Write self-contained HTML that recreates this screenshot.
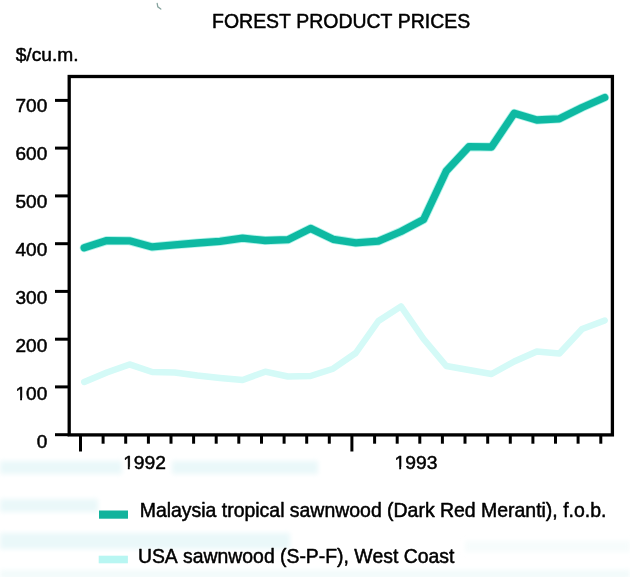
<!DOCTYPE html>
<html><head><meta charset="utf-8"><title>Forest Product Prices</title><style>
html,body{margin:0;padding:0;background:#fff;}
body{width:630px;height:577px;overflow:hidden;font-family:"Liberation Sans",sans-serif;}
svg{display:block;}
.t text{font-family:"Liberation Sans",sans-serif;font-kerning:none;font-variant-ligatures:none;}
</style></head><body>
<svg width="630" height="577" viewBox="0 0 630 577">
<defs><filter id="b1" x="-5%" y="-20%" width="110%" height="140%"><feGaussianBlur stdDeviation="0.7"/></filter>
<filter id="b3" x="-10%" y="-50%" width="120%" height="200%"><feGaussianBlur stdDeviation="2.5"/></filter>
<mask id="m1" maskUnits="userSpaceOnUse" x="0" y="0" width="630" height="577"><rect x="0" y="0" width="630" height="577" fill="#fff"/>
<rect x="123.53" y="466.85" width="4.30" height="3.40" fill="#000"/>
<rect x="129.72" y="466.85" width="4.25" height="3.40" fill="#000"/>
<rect x="394.92" y="466.85" width="4.30" height="3.40" fill="#000"/>
<rect x="401.11" y="466.85" width="4.25" height="3.40" fill="#000"/>
<rect x="15.91" y="397.79" width="4.24" height="3.40" fill="#000"/>
<rect x="22.02" y="397.79" width="4.19" height="3.40" fill="#000"/>
</mask></defs>
<g fill="#eaf8f9" filter="url(#b3)">
<rect x="0" y="461" width="122" height="13"/>
<rect x="172" y="461" width="146" height="13"/>
<rect x="0" y="499" width="98" height="13"/>
<rect x="0" y="533" width="290" height="16"/>
<rect x="465" y="541" width="165" height="11" opacity="0.45"/>
<rect x="0" y="570" width="630" height="9" opacity="0.6"/>
</g>
<polyline points="84.2,382.0 106.8,372.5 129.5,364.4 152.1,372.0 174.7,372.5 197.3,375.5 220.0,378.0 242.6,380.0 265.2,371.7 287.9,376.5 310.5,376.0 333.1,368.7 355.8,353.0 378.4,321.0 401.0,306.4 423.6,339.0 446.3,366.0 468.9,370.0 491.5,374.0 514.2,361.5 536.8,351.5 559.4,353.5 582.1,329.0 604.7,320.5" fill="none" stroke="#d4faf7" stroke-width="6.4" filter="url(#b1)" stroke-linejoin="round" stroke-linecap="round"/>
<polyline points="84.2,247.8 106.8,240.6 129.5,240.8 152.1,246.9 174.7,244.8 197.3,243.0 220.0,241.3 242.6,238.2 265.2,240.5 287.9,239.7 310.5,228.4 333.1,239.3 355.8,242.8 378.4,241.2 401.0,231.5 423.6,219.5 446.3,171.0 468.9,146.7 491.5,147.0 514.2,113.2 536.8,120.0 559.4,118.8 582.1,107.5 604.7,97.5" fill="none" stroke="#b4f3ea" stroke-width="9" filter="url(#b1)" stroke-linejoin="round" stroke-linecap="round"/>
<polyline points="84.2,247.8 106.8,240.6 129.5,240.8 152.1,246.9 174.7,244.8 197.3,243.0 220.0,241.3 242.6,238.2 265.2,240.5 287.9,239.7 310.5,228.4 333.1,239.3 355.8,242.8 378.4,241.2 401.0,231.5 423.6,219.5 446.3,171.0 468.9,146.7 491.5,147.0 514.2,113.2 536.8,120.0 559.4,118.8 582.1,107.5 604.7,97.5" fill="none" stroke="#0eb9a2" stroke-width="7.3" stroke-linejoin="round" stroke-linecap="round"/>
<rect x="99" y="510.5" width="29" height="8.2" fill="#12b39c"/>
<rect x="98.7" y="555.7" width="29.2" height="7.6" fill="#b8f6f2"/>
<path d="M157.2 3.5 L157.8 6.8 L160.8 9" fill="none" stroke="#86a39e" stroke-width="1.3" stroke-linecap="round"/>
<g fill="#000" stroke="none">
<rect x="69.2" y="76.5" width="543.2" height="358.4" fill="none" stroke="#000" stroke-width="3.3"/>
<line x1="55" y1="434.7" x2="69" y2="434.7" stroke="#000" stroke-width="3"/>
<line x1="55" y1="386.9" x2="69" y2="386.9" stroke="#000" stroke-width="3"/>
<line x1="55" y1="339.2" x2="69" y2="339.2" stroke="#000" stroke-width="3"/>
<line x1="55" y1="291.4" x2="69" y2="291.4" stroke="#000" stroke-width="3"/>
<line x1="55" y1="243.7" x2="69" y2="243.7" stroke="#000" stroke-width="3"/>
<line x1="55" y1="195.9" x2="69" y2="195.9" stroke="#000" stroke-width="3"/>
<line x1="55" y1="148.1" x2="69" y2="148.1" stroke="#000" stroke-width="3"/>
<line x1="55" y1="100.4" x2="69" y2="100.4" stroke="#000" stroke-width="3"/>
<line x1="80.5" y1="435" x2="80.5" y2="451.5" stroke="#000" stroke-width="3"/>
<line x1="103.1" y1="435" x2="103.1" y2="443.7" stroke="#000" stroke-width="3"/>
<line x1="125.7" y1="435" x2="125.7" y2="443.7" stroke="#000" stroke-width="3"/>
<line x1="148.4" y1="435" x2="148.4" y2="443.7" stroke="#000" stroke-width="3"/>
<line x1="171.0" y1="435" x2="171.0" y2="443.7" stroke="#000" stroke-width="3"/>
<line x1="193.6" y1="435" x2="193.6" y2="443.7" stroke="#000" stroke-width="3"/>
<line x1="216.2" y1="435" x2="216.2" y2="443.7" stroke="#000" stroke-width="3"/>
<line x1="238.8" y1="435" x2="238.8" y2="443.7" stroke="#000" stroke-width="3"/>
<line x1="261.5" y1="435" x2="261.5" y2="443.7" stroke="#000" stroke-width="3"/>
<line x1="284.1" y1="435" x2="284.1" y2="443.7" stroke="#000" stroke-width="3"/>
<line x1="306.7" y1="435" x2="306.7" y2="443.7" stroke="#000" stroke-width="3"/>
<line x1="329.3" y1="435" x2="329.3" y2="443.7" stroke="#000" stroke-width="3"/>
<line x1="351.9" y1="435" x2="351.9" y2="451.5" stroke="#000" stroke-width="3"/>
<line x1="374.6" y1="435" x2="374.6" y2="443.7" stroke="#000" stroke-width="3"/>
<line x1="397.2" y1="435" x2="397.2" y2="443.7" stroke="#000" stroke-width="3"/>
<line x1="419.8" y1="435" x2="419.8" y2="443.7" stroke="#000" stroke-width="3"/>
<line x1="442.4" y1="435" x2="442.4" y2="443.7" stroke="#000" stroke-width="3"/>
<line x1="465.0" y1="435" x2="465.0" y2="443.7" stroke="#000" stroke-width="3"/>
<line x1="487.7" y1="435" x2="487.7" y2="443.7" stroke="#000" stroke-width="3"/>
<line x1="510.3" y1="435" x2="510.3" y2="443.7" stroke="#000" stroke-width="3"/>
<line x1="532.9" y1="435" x2="532.9" y2="443.7" stroke="#000" stroke-width="3"/>
<line x1="555.5" y1="435" x2="555.5" y2="443.7" stroke="#000" stroke-width="3"/>
<line x1="578.1" y1="435" x2="578.1" y2="443.7" stroke="#000" stroke-width="3"/>
<line x1="600.8" y1="435" x2="600.8" y2="443.7" stroke="#000" stroke-width="3"/>
</g>
<g class="t" mask="url(#m1)" fill="#000" stroke="#000" stroke-width="0.5" stroke-linejoin="round">
<text x="212.11" y="27.70" font-size="19.44">FOREST PRODUCT PRICES</text>
<text x="15.69" y="60.80" font-size="19.17">$/cu.m.</text>
<text x="123.16" y="468.70" font-size="19.25">1992</text>
<text x="394.55" y="468.70" font-size="19.25">1993</text>
<text x="139.70" y="516.50" font-size="19.46">Malaysia tropical sawnwood (Dark Red Meranti), f.o.b.</text>
<text x="137.90" y="562.80" font-size="19.39">USA sawnwood (S-P-F), West Coast</text>
<text x="36.68" y="447.50" font-size="19.00">0</text>
<text x="15.54" y="399.64" font-size="19.00">100</text>
<text x="15.54" y="351.78" font-size="19.00">200</text>
<text x="15.54" y="303.92" font-size="19.00">300</text>
<text x="15.54" y="256.06" font-size="19.00">400</text>
<text x="15.54" y="208.20" font-size="19.00">500</text>
<text x="15.54" y="160.34" font-size="19.00">600</text>
<text x="15.54" y="112.48" font-size="19.00">700</text>
</g>
</svg>
</body></html>
